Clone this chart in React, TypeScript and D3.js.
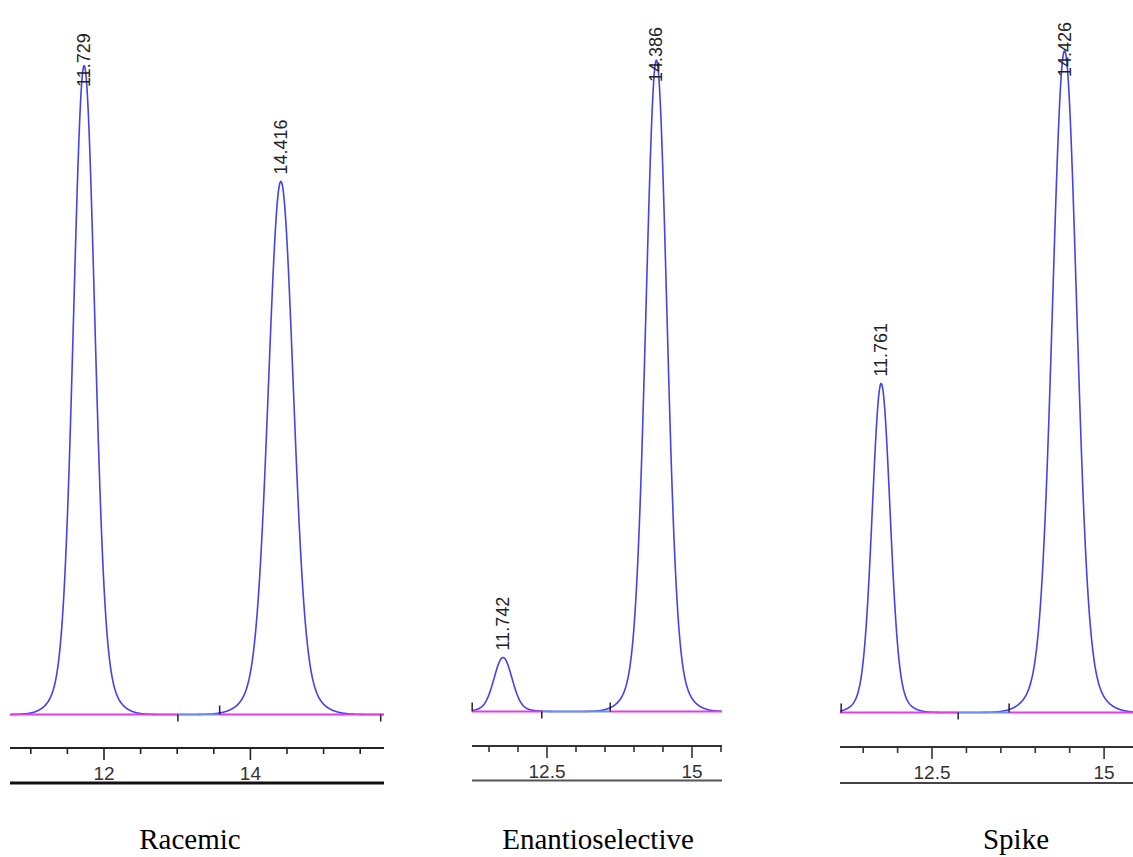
import React from "react";
import * as d3 from "d3";

// ---- Data ----
const racemicTimes = [11.729, 14.416];
const racemicHeights = [99.8, 82.0];
const racemicWidths = [0.14, 0.165];
const racemicMarkers = [13.01, 13.58, 15.78];
const racemicMarkerDirs = [1, -1, 1];
const racemicMajor = [12, 14];

const enantioTimes = [11.742, 14.386];
const enantioHeights = [8.3, 100.2];
const enantioWidths = [0.15, 0.175];
const enantioMarkers = [11.21, 12.41, 13.59];
const enantioMarkerDirs = [-1, 1, -1];
const enantioMajor = [12.5, 15];

const spikeTimes = [11.761, 14.426];
const spikeHeights = [50.6, 101.8];
const spikeWidths = [0.125, 0.17];
const spikeMarkers = [11.18, 12.88, 13.62];
const spikeMarkerDirs = [-1, 1, -1];
const spikeMajor = [12.5, 15];

const titles = ["Racemic", "Enantioselective", "Spike"];

// peak shape: main Gaussian plus a small broader foot
const FOOT_FRAC = 0.1;
const FOOT_SCALE = 1.9;

// ---- Layout ----
const panels = [
  {
    title: titles[0], times: racemicTimes, heights: racemicHeights, widths: racemicWidths,
    markers: racemicMarkers, dirs: racemicMarkerDirs, major: racemicMajor, blueSeg: [0, 1],
    domain: [10.716, 15.825], range: [10, 384], baseY: 714.5, axisY: 748, bottomY: 783,
    labelMinY: 87, titleX: 190, bottomStroke: "#111", bottomWidth: 3, axisStroke: "#222",
  },
  {
    title: titles[1], times: enantioTimes, heights: enantioHeights, widths: enantioWidths,
    markers: enantioMarkers, dirs: enantioMarkerDirs, major: enantioMajor, blueSeg: [1, 2],
    domain: [11.207, 15.517], range: [472, 722], baseY: 711.5, axisY: 746, bottomY: 780.5,
    labelMinY: 82, titleX: 598, bottomStroke: "#555", bottomWidth: 2, axisStroke: "#333",
  },
  {
    title: titles[2], times: spikeTimes, heights: spikeHeights, widths: spikeWidths,
    markers: spikeMarkers, dirs: spikeMarkerDirs, major: spikeMajor, blueSeg: [1, 2],
    domain: [11.163, 15.42], range: [840, 1133], baseY: 712.5, axisY: 747, bottomY: 783,
    labelMinY: 77, titleX: 1016, bottomStroke: "#444", bottomWidth: 2, axisStroke: "#333",
  },
];

const LINE = "#4343e6";
const MAGENTA = "#e63ce6";
const SEGBLUE = "#6f8ff0";

function Panel({ p }: { p: any }) {
  const x = d3.scaleLinear().domain(p.domain).range(p.range);
  const y = d3.scaleLinear().domain([0, 100]).range([p.baseY, p.baseY - 650]);
  const signal = (t: number) =>
    p.times.reduce((s: number, c: number, i: number) => {
      const z = (t - c) / p.widths[i];
      const shape =
        (1 - FOOT_FRAC) * Math.exp(-0.5 * z * z) +
        FOOT_FRAC * Math.exp(-0.5 * Math.pow(z / FOOT_SCALE, 2));
      return s + p.heights[i] * shape;
    }, 0);
  const samples = d3.range(p.domain[0], p.domain[1] + 0.001, 0.004);
  const line = d3.line<number>().x((t) => x(t)).y((t) => y(signal(t)));
  const minor = d3.range(Math.ceil(p.domain[0] / 0.5) * 0.5, p.domain[1] + 0.001, 0.5);
  const segA = p.markers[p.blueSeg[0]];
  const segB = p.markers[p.blueSeg[1]];
  const fmt = d3.format("");
  return (
    <g>
      {/* chromatogram */}
      <path d={line(samples) || ""} fill="none" stroke={LINE} strokeWidth={1.6} />
      {/* baseline */}
      <line x1={x(p.domain[0])} x2={x(segA)} y1={p.baseY} y2={p.baseY} stroke={MAGENTA} strokeWidth={2} />
      <line x1={x(segA)} x2={x(segB)} y1={p.baseY} y2={p.baseY} stroke={SEGBLUE} strokeWidth={2} />
      <line x1={x(segB)} x2={x(p.domain[1])} y1={p.baseY} y2={p.baseY} stroke={MAGENTA} strokeWidth={2} />
      {/* integration markers */}
      {p.markers.map((m: number, i: number) => (
        <line key={"m" + i} x1={x(m)} x2={x(m)} y1={p.baseY}
          y2={p.baseY + (p.dirs[i] > 0 ? 7 : -9)} stroke="#222" strokeWidth={1.5} />
      ))}
      {/* peak labels */}
      {p.times.map((t: number, i: number) => {
        const py = y(p.heights[i]);
        const sy = Math.max(py - 7, p.labelMinY);
        const sx = x(t) + 6;
        return (
          <text key={"l" + i} transform={`translate(${sx},${sy}) rotate(-90)`}
            fontFamily="Liberation Sans, Arial, sans-serif" fontSize={18} fill="#222">
            {t.toFixed(3)}
          </text>
        );
      })}
      {/* axis */}
      <line x1={p.range[0]} x2={p.range[1]} y1={p.axisY} y2={p.axisY} stroke={p.axisStroke} strokeWidth={2} />
      {minor.map((t: number, i: number) => {
        const isMajor = p.major.some((m: number) => Math.abs(m - t) < 1e-6);
        return (
          <line key={"t" + i} x1={x(t)} x2={x(t)} y1={p.axisY} y2={p.axisY + (isMajor ? 12 : 6)}
            stroke={p.axisStroke} strokeWidth={1.6} />
        );
      })}
      {p.major.map((t: number, i: number) => (
        <text key={"ml" + i} x={x(t)} y={p.axisY + 32} textAnchor="middle"
          fontFamily="Liberation Sans, Arial, sans-serif" fontSize={19} fill="#333">
          {fmt(t)}
        </text>
      ))}
      <line x1={p.range[0]} x2={p.range[1]} y1={p.bottomY} y2={p.bottomY}
        stroke={p.bottomStroke} strokeWidth={p.bottomWidth} />
      {/* title */}
      <text x={p.titleX} y={849} textAnchor="middle"
        fontFamily="Liberation Serif, 'Times New Roman', serif" fontSize={29} fill="#000">
        {p.title}
      </text>
    </g>
  );
}

export default function App() {
  return (
    <svg width={1133} height={857} style={{ position: "absolute", left: 0, top: 0, background: "#fff" }}>
      <rect width={1133} height={857} fill="#fff" />
      {panels.map((p, i) => (
        <Panel key={i} p={p} />
      ))}
    </svg>
  );
}
